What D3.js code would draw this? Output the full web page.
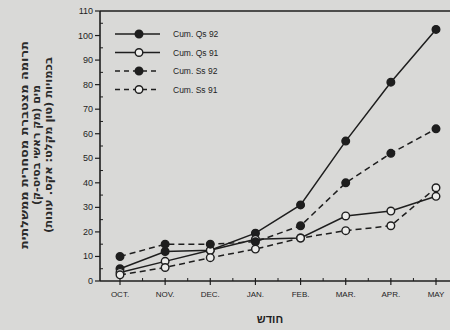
<!DOCTYPE html>
<html>
<head>
<meta charset="utf-8">
<script src="https://cdn.jsdelivr.net/npm/d3@7"></script>
<style>
  body { margin: 0; background: #d9d9d7; }
  svg { display: block; }
</style>
</head>
<body>
<div id="graph"></div>
<script>
// month categories + the four cumulative series
const months = ["OCT.", "NOV.", "DEC.", "JAN.", "FEB.", "MAR.", "APR.", "MAY"];
const qs92 = [5, 12, 12.5, 19.5, 31, 57, 81, 102.5];
const qs91 = [3.5, 8, 12.5, 17, 17.5, 26.5, 28.5, 34.5];
const ss92 = [10, 15, 15, 16, 22.5, 40, 52, 62];
const ss91 = [2.5, 5.5, 9.5, 13, 17.5, 20.5, 22.5, 38];
const yTicks = [0, 10, 20, 30, 40, 50, 60, 70, 80, 90, 100, 110];
const seriesNames = ["Cum. Qs 92", "Cum. Qs 91", "Cum. Ss 92", "Cum. Ss 91"];
const yLabelLines = ["תרומה מצטברת מסחרית ממשלתית", "מים (מק ראשי בסיס-ק)", "בכמויות (טון מקלט: אקס. עונות)"];
const yLabelLengths = [208, 120, 176];
const xTitle = "חודש";

const width = 450, height = 330;
const margin = {left: 100, top: 11, bottom: 48};
const ink = "#1e1e1e";

const svg = d3.select("#graph").append("svg")
    .attr("width", width)
    .attr("height", height)
    .style("font-family", "Liberation Sans, Arial, sans-serif");

let x = d3.scalePoint()
    .domain(months)
    .range([120, 436]);

let y = d3.scaleLinear()
    .domain([0, 110])
    .range([height - margin.bottom - 1, margin.top]);

// axes
svg.append("line")
    .attr("x1", margin.left).attr("x2", margin.left)
    .attr("y1", y(0)).attr("y2", y(110))
    .attr("stroke", ink).attr("stroke-width", 1.6);
svg.append("line")
    .attr("x1", margin.left).attr("x2", width)
    .attr("y1", y(0)).attr("y2", y(0))
    .attr("stroke", ink).attr("stroke-width", 1.6);
svg.append("line")
    .attr("x1", margin.left).attr("x2", width)
    .attr("y1", y(110)).attr("y2", y(110))
    .attr("stroke", ink).attr("stroke-width", 1.4);

// y ticks, labels on the left, small minor ticks inside
svg.append("g").selectAll("line").data(yTicks).enter().append("line")
    .attr("x1", margin.left - 5).attr("x2", margin.left)
    .attr("y1", d => y(d)).attr("y2", d => y(d))
    .attr("stroke", ink).attr("stroke-width", 1.2);
svg.append("g").selectAll("line").data(yTicks.slice(0, -1)).enter().append("line")
    .attr("x1", margin.left).attr("x2", margin.left + 3)
    .attr("y1", d => y(d + 5)).attr("y2", d => y(d + 5))
    .attr("stroke", ink).attr("stroke-width", 1);
svg.append("g").selectAll("text").data(yTicks).enter().append("text")
    .attr("x", margin.left - 7)
    .attr("y", d => y(d) + 3)
    .style("text-anchor", "end")
    .style("font-size", "9px")
    .attr("fill", ink)
    .text(d => d);

// x ticks
svg.append("g").selectAll("line").data(months).enter().append("line")
    .attr("x1", d => x(d)).attr("x2", d => x(d))
    .attr("y1", y(0) - 3).attr("y2", y(0) + 4)
    .attr("stroke", ink).attr("stroke-width", 1.2);
svg.append("g").selectAll("line").data(months).enter().append("line")
    .attr("x1", d => x(d) + x.step() / 2).attr("x2", d => x(d) + x.step() / 2)
    .attr("y1", y(0) - 3).attr("y2", y(0))
    .attr("stroke", ink).attr("stroke-width", 1);
svg.append("g").selectAll("text").data(months).enter().append("text")
    .attr("x", d => x(d))
    .attr("y", y(0) + 16)
    .style("text-anchor", "middle")
    .style("font-size", "8px")
    .attr("fill", ink)
    .text(d => d);

svg.append("text")
    .attr("x", 270).attr("y", 323)
    .style("text-anchor", "middle")
    .style("font-size", "11px")
    .style("font-weight", "bold")
    .attr("fill", ink)
    .text(xTitle);

// rotated hebrew y title, one text per line
const yTitle = svg.append("g")
    .attr("transform", "translate(0, 145) rotate(-90)");
yLabelLines.forEach(function(t, i) {
    yTitle.append("text")
        .attr("x", 0)
        .attr("y", 27.5 + i * 12)
        .attr("direction", "rtl")
        .attr("textLength", yLabelLengths[i])
        .attr("lengthAdjust", "spacingAndGlyphs")
        .style("text-anchor", "middle")
        .style("font-family", "DejaVu Sans, sans-serif")
        .style("font-size", "10.5px")
        .style("font-weight", "bold")
        .attr("fill", "#2a2a2a")
        .text(t);
});

// series
const series = [
    {name: seriesNames[0], values: qs92, dash: null, filled: true},
    {name: seriesNames[1], values: qs91, dash: null, filled: false},
    {name: seriesNames[2], values: ss92, dash: "6,4", filled: true},
    {name: seriesNames[3], values: ss91, dash: "6,4", filled: false}
];

const line = d3.line()
    .x((d, i) => x(months[i]))
    .y(d => y(d));

series.forEach(function(s) {
    svg.append("path")
        .datum(s.values)
        .attr("d", line)
        .attr("fill", "none")
        .attr("stroke", ink)
        .attr("stroke-width", 1.5)
        .attr("stroke-dasharray", s.dash);
});
series.forEach(function(s) {
    svg.append("g").selectAll("circle").data(s.values).enter().append("circle")
        .attr("cx", (d, i) => x(months[i]))
        .attr("cy", d => y(d))
        .attr("r", 3.8)
        .attr("fill", s.filled ? ink : "#ececea")
        .attr("stroke", ink)
        .attr("stroke-width", 1.4);
});

// legend
const legend = svg.append("g");
series.forEach(function(s, i) {
    const ly = 34 + i * 18.5;
    legend.append("line")
        .attr("x1", 115).attr("x2", 160)
        .attr("y1", ly).attr("y2", ly)
        .attr("stroke", ink).attr("stroke-width", 1.5)
        .attr("stroke-dasharray", s.dash ? "5,4" : null);
    legend.append("circle")
        .attr("cx", 139).attr("cy", ly).attr("r", 3.8)
        .attr("fill", s.filled ? ink : "#ececea")
        .attr("stroke", ink).attr("stroke-width", 1.4);
    legend.append("text")
        .attr("x", 173).attr("y", ly + 3)
        .style("font-size", "8.5px")
        .attr("fill", ink)
        .text(s.name);
});
</script>
</body>
</html>
